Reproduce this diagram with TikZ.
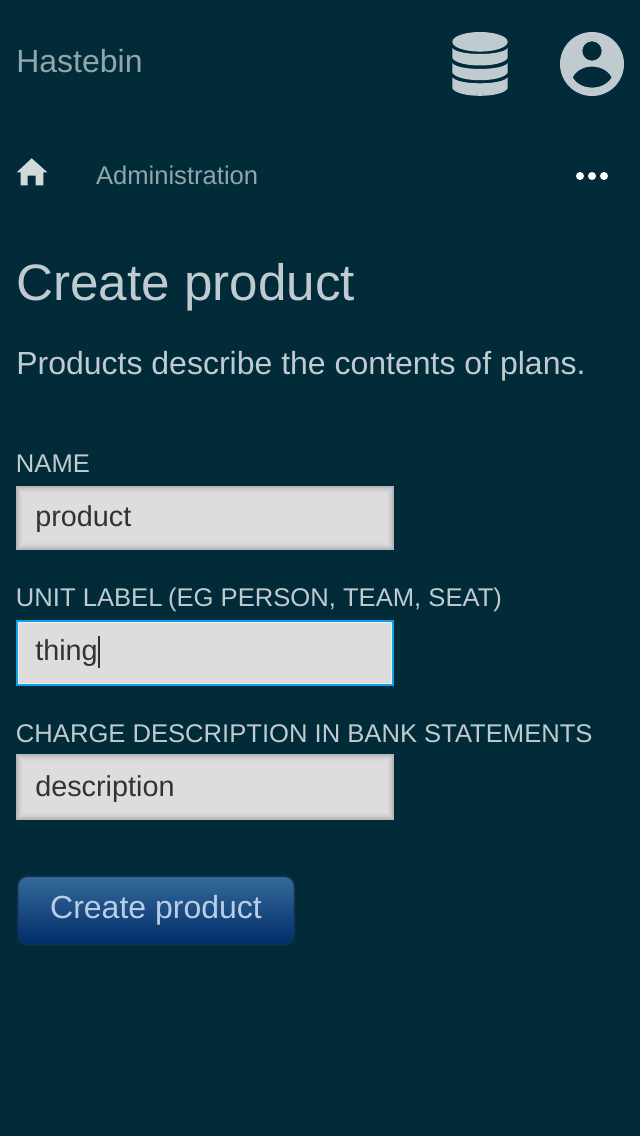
\documentclass[tikz,border=0pt]{standalone}
\usepackage{fontspec}
\setmainfont{Liberation Sans}
\usepackage{xcolor}
\usetikzlibrary{positioning}
\definecolor{pagebg}    {HTML}{022B3A}
\definecolor{brandtext} {HTML}{8FA6AD}
\definecolor{bodytext}  {HTML}{BFCBCE}
\definecolor{icontone}  {HTML}{BFCBCE}
\definecolor{hometone}  {HTML}{D3D9DB}
\definecolor{fieldedge} {HTML}{B8B8B8}
\definecolor{fieldglow} {HTML}{C6C6C6}
\definecolor{fieldmid}  {HTML}{D0D0D0}
\definecolor{fieldsoft} {HTML}{D8D8D8}
\definecolor{fieldfill} {HTML}{DDDDDD}
\definecolor{fieldtext} {HTML}{333333}
\definecolor{focusedge} {HTML}{0FA0E8}
\definecolor{focusglow} {HTML}{EFEFEF}
\definecolor{btnedge}   {HTML}{15304E}
\definecolor{btntop}    {HTML}{356A9B}
\definecolor{btnbottom} {HTML}{002C68}
\definecolor{btntext}   {HTML}{B9CEE4}
\tikzset{
  plain/.style={
    inner sep=0pt, outer sep=0pt, anchor=base west
  },
  brand/.style={
    plain, text=brandtext, font=\fontsize{32pt}{38pt}\selectfont
  },
  crumb/.style={
    plain, text=brandtext, font=\fontsize{25.6pt}{30pt}\selectfont
  },
  heading/.style={
    plain, text=bodytext, font=\fontsize{51.2pt}{60pt}\selectfont
  },
  lead/.style={
    plain, text=bodytext, font=\fontsize{32pt}{38pt}\selectfont
  },
  fieldlabel/.style={
    plain, text=bodytext, font=\fontsize{25.6pt}{30pt}\selectfont
  },
  fieldvalue/.style={
    plain, text=fieldtext, font=\fontsize{28.8pt}{34pt}\selectfont
  },
  fieldbox/.style={
    rectangle, draw=fieldedge, line width=2pt, fill=fieldfill,
    minimum width=376pt, minimum height=62pt, inner sep=0pt, outer sep=0pt,
    path picture={
      \draw[fieldsoft, line width=12pt]
        (path picture bounding box.south west) rectangle (path picture bounding box.north east);
      \draw[fieldmid, line width=8pt]
        (path picture bounding box.south west) rectangle (path picture bounding box.north east);
      \draw[fieldglow, line width=4pt]
        (path picture bounding box.south west) rectangle (path picture bounding box.north east);
    }
  },
  focusbox/.style={
    rectangle, draw=focusedge, line width=2pt, fill=fieldfill,
    minimum width=376pt, minimum height=64pt, inner sep=0pt, outer sep=0pt,
    path picture={
      \draw[focusglow, line width=4pt]
        (path picture bounding box.south west) rectangle (path picture bounding box.north east);
    }
  },
  actionbtn/.style={
    rectangle, draw=btnedge, line width=1.5pt, rounded corners=10pt,
    top color=btntop, bottom color=btnbottom,
    minimum width=277pt, minimum height=68.5pt, inner sep=0pt,
    text=btntext, font=\fontsize{32pt}{38pt}\selectfont
  },
  menudot/.style={
    circle, fill=white, minimum size=8pt, inner sep=0pt
  },
}
\begin{document}
\begin{tikzpicture}[x=1pt, y=-1pt]

% ---- Page ----------------------------------------------------------
\fill[pagebg] (0,0) rectangle (640,1136);

% ---- Top bar -------------------------------------------------------
\node[brand] (brandname) at (16.3,72) {Hastebin};

% database icon: lid and three bands
\fill[icontone] (480,41.8) ellipse [x radius=27.7, y radius=9.8];
\foreach \yy/\hh in {48/10, 63/9.7, 77.3/11} {
  \fill[icontone] (452.3,\yy) -- (452.3,\yy+\hh)
    .. controls (458,\yy+\hh+10) and (502,\yy+\hh+10) .. (507.7,\yy+\hh)
    -- (507.7,\yy)
    .. controls (502,\yy+8) and (458,\yy+8) .. (452.3,\yy) -- cycle;
}

% account icon: disc with head and shoulders cut out
\fill[icontone, even odd rule] (592,64) circle (32)
  (592,51) circle (9.7)
  (572.7,77.3) .. controls (580,63) and (604,63) .. (611.7,77.3)
  .. controls (604,91) and (580,91) .. (572.7,77.3) -- cycle;

% ---- Breadcrumb row ------------------------------------------------
\fill[hometone] (31.7,158.3) -- (47.3,172.3) -- (43.3,172.3) -- (43.3,185.3)
  -- (35.7,185.3) -- (35.7,175.7) -- (27.7,175.7) -- (27.7,185.3)
  -- (20.7,185.3) -- (20.7,172.3) -- (16.7,172.3) -- cycle;
\node[crumb] (admin) at (96,184) {Administration};
\node[menudot] (dot1) at (580,176) {};
\node[menudot] (dot2) at (592,176) {};
\node[menudot] (dot3) at (604,176) {};

% ---- Heading -------------------------------------------------------
\node[heading] (title) at (16.5,300) {Create product};
\node[lead] (intro) at (16.3,374) {Products describe the contents of plans.};

% ---- Form ----------------------------------------------------------
\node[fieldlabel] (namelabel) at (16,472) {NAME};
\node[fieldbox] (namebox) at (205,518) {};
\node[fieldvalue] (namevalue) at (35.3,526) {product};

\node[fieldlabel] (unitlabel) at (16,606) {UNIT LABEL\kern-1.5pt\ (EG PERSON, TEAM, SEAT)};
\node[focusbox] (unitbox) at (205,653) {};
\node[fieldvalue] (unitvalue) at (35.3,660) {thing};
\draw[fieldtext, line width=2pt] (99,636) -- (99,668); % caret

\node[fieldlabel] (chargelabel) at (16,742) {CHARGE DESCRIPTION IN BANK STATEMENTS};
\node[fieldbox, minimum height=64pt] (chargebox) at (205,787) {};
\node[fieldvalue] (chargevalue) at (35.3,796) {description};

\node[actionbtn] (createbtn) at (156,910.5) {Create product};

\end{tikzpicture}
\end{document}
